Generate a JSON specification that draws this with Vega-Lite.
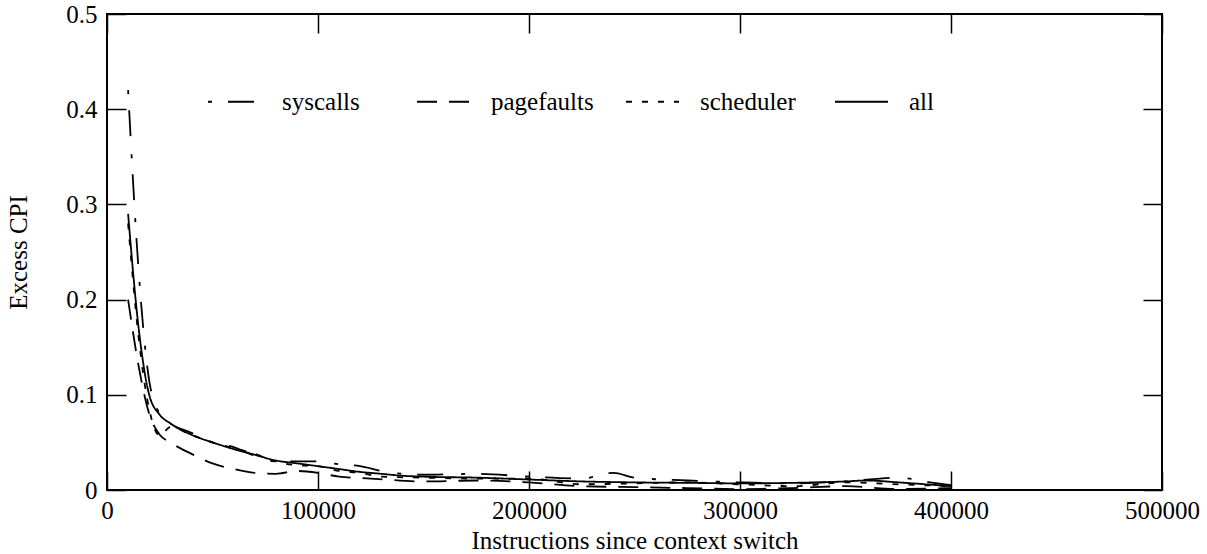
{
  "$schema": "https://vega.github.io/schema/vega-lite/v6.json",
  "autosize": "none",
  "width": 1055,
  "height": 476,
  "padding": {"left": 107, "top": 14, "right": 45, "bottom": 64},
  "background": "white",
  "config": {
    "font": "Liberation Serif",
    "view": {"stroke": "black", "strokeWidth": 2},
    "axis": {"grid": false, "domain": false, "labelFont": "Liberation Serif", "titleFont": "Liberation Serif", "labelFontSize": 25, "titleFontSize": 25, "labelColor": "black", "titleColor": "black", "titleFontWeight": "normal", "tickColor": "black", "tickWidth": 1.5, "labelFlush": false, "labelOverlap": false},
    "legend": {"labelFont": "Liberation Serif", "labelFontSize": 25, "labelColor": "black"}
  },
  "datasets": {
    "d": [
      {"series": "syscalls", "x": 10000, "y": 0.42},
      {"series": "syscalls", "x": 15000, "y": 0.23},
      {"series": "syscalls", "x": 20000, "y": 0.115},
      {"series": "syscalls", "x": 25000, "y": 0.08},
      {"series": "syscalls", "x": 30000, "y": 0.07},
      {"series": "syscalls", "x": 40000, "y": 0.06},
      {"series": "syscalls", "x": 50000, "y": 0.05},
      {"series": "syscalls", "x": 60000, "y": 0.045},
      {"series": "syscalls", "x": 70000, "y": 0.036},
      {"series": "syscalls", "x": 80000, "y": 0.03},
      {"series": "syscalls", "x": 90000, "y": 0.03},
      {"series": "syscalls", "x": 100000, "y": 0.03},
      {"series": "syscalls", "x": 110000, "y": 0.027},
      {"series": "syscalls", "x": 120000, "y": 0.025},
      {"series": "syscalls", "x": 130000, "y": 0.02},
      {"series": "syscalls", "x": 150000, "y": 0.016},
      {"series": "syscalls", "x": 175000, "y": 0.017},
      {"series": "syscalls", "x": 200000, "y": 0.014},
      {"series": "syscalls", "x": 225000, "y": 0.012},
      {"series": "syscalls", "x": 240000, "y": 0.018},
      {"series": "syscalls", "x": 250000, "y": 0.013},
      {"series": "syscalls", "x": 275000, "y": 0.01},
      {"series": "syscalls", "x": 300000, "y": 0.008},
      {"series": "syscalls", "x": 325000, "y": 0.007},
      {"series": "syscalls", "x": 350000, "y": 0.009},
      {"series": "syscalls", "x": 375000, "y": 0.013},
      {"series": "syscalls", "x": 390000, "y": 0.008},
      {"series": "syscalls", "x": 400000, "y": 0.005},
      {"series": "pagefaults", "x": 10000, "y": 0.2},
      {"series": "pagefaults", "x": 15000, "y": 0.13},
      {"series": "pagefaults", "x": 20000, "y": 0.08},
      {"series": "pagefaults", "x": 25000, "y": 0.058},
      {"series": "pagefaults", "x": 30000, "y": 0.05},
      {"series": "pagefaults", "x": 40000, "y": 0.038},
      {"series": "pagefaults", "x": 50000, "y": 0.028},
      {"series": "pagefaults", "x": 60000, "y": 0.022},
      {"series": "pagefaults", "x": 70000, "y": 0.018},
      {"series": "pagefaults", "x": 80000, "y": 0.017},
      {"series": "pagefaults", "x": 90000, "y": 0.02},
      {"series": "pagefaults", "x": 100000, "y": 0.018},
      {"series": "pagefaults", "x": 110000, "y": 0.014},
      {"series": "pagefaults", "x": 125000, "y": 0.012},
      {"series": "pagefaults", "x": 150000, "y": 0.009},
      {"series": "pagefaults", "x": 175000, "y": 0.01},
      {"series": "pagefaults", "x": 200000, "y": 0.008},
      {"series": "pagefaults", "x": 225000, "y": 0.004},
      {"series": "pagefaults", "x": 250000, "y": 0.003},
      {"series": "pagefaults", "x": 275000, "y": 0.002},
      {"series": "pagefaults", "x": 300000, "y": 0.001},
      {"series": "pagefaults", "x": 325000, "y": 0.002},
      {"series": "pagefaults", "x": 350000, "y": 0.004},
      {"series": "pagefaults", "x": 375000, "y": 0.001},
      {"series": "pagefaults", "x": 400000, "y": 0.002},
      {"series": "scheduler", "x": 10000, "y": 0.28},
      {"series": "scheduler", "x": 15000, "y": 0.16},
      {"series": "scheduler", "x": 20000, "y": 0.085},
      {"series": "scheduler", "x": 25000, "y": 0.057},
      {"series": "scheduler", "x": 30000, "y": 0.066},
      {"series": "scheduler", "x": 40000, "y": 0.058},
      {"series": "scheduler", "x": 50000, "y": 0.05},
      {"series": "scheduler", "x": 60000, "y": 0.044},
      {"series": "scheduler", "x": 70000, "y": 0.038},
      {"series": "scheduler", "x": 80000, "y": 0.03},
      {"series": "scheduler", "x": 90000, "y": 0.026},
      {"series": "scheduler", "x": 100000, "y": 0.025},
      {"series": "scheduler", "x": 110000, "y": 0.02},
      {"series": "scheduler", "x": 120000, "y": 0.018},
      {"series": "scheduler", "x": 130000, "y": 0.014},
      {"series": "scheduler", "x": 150000, "y": 0.013},
      {"series": "scheduler", "x": 175000, "y": 0.012},
      {"series": "scheduler", "x": 200000, "y": 0.012},
      {"series": "scheduler", "x": 225000, "y": 0.006},
      {"series": "scheduler", "x": 250000, "y": 0.007},
      {"series": "scheduler", "x": 275000, "y": 0.008},
      {"series": "scheduler", "x": 300000, "y": 0.006},
      {"series": "scheduler", "x": 325000, "y": 0.004},
      {"series": "scheduler", "x": 350000, "y": 0.008},
      {"series": "scheduler", "x": 375000, "y": 0.006},
      {"series": "scheduler", "x": 400000, "y": 0.004},
      {"series": "all", "x": 10000, "y": 0.29},
      {"series": "all", "x": 15000, "y": 0.17},
      {"series": "all", "x": 20000, "y": 0.1},
      {"series": "all", "x": 25000, "y": 0.079},
      {"series": "all", "x": 30000, "y": 0.07},
      {"series": "all", "x": 40000, "y": 0.058},
      {"series": "all", "x": 50000, "y": 0.05},
      {"series": "all", "x": 60000, "y": 0.043},
      {"series": "all", "x": 70000, "y": 0.037},
      {"series": "all", "x": 80000, "y": 0.031},
      {"series": "all", "x": 90000, "y": 0.028},
      {"series": "all", "x": 100000, "y": 0.025},
      {"series": "all", "x": 110000, "y": 0.022},
      {"series": "all", "x": 120000, "y": 0.019},
      {"series": "all", "x": 130000, "y": 0.017},
      {"series": "all", "x": 140000, "y": 0.015},
      {"series": "all", "x": 150000, "y": 0.014},
      {"series": "all", "x": 175000, "y": 0.013},
      {"series": "all", "x": 200000, "y": 0.011},
      {"series": "all", "x": 225000, "y": 0.009},
      {"series": "all", "x": 250000, "y": 0.008},
      {"series": "all", "x": 275000, "y": 0.0075},
      {"series": "all", "x": 300000, "y": 0.007},
      {"series": "all", "x": 325000, "y": 0.0075},
      {"series": "all", "x": 350000, "y": 0.009},
      {"series": "all", "x": 360000, "y": 0.01},
      {"series": "all", "x": 375000, "y": 0.008},
      {"series": "all", "x": 400000, "y": 0.004}
    ]
  },
  "data": {"name": "d"},
  "layer": [
    {
      "mark": {"type": "line", "color": "black", "strokeWidth": 1.8, "interpolate": "monotone", "clip": true},
      "encoding": {
        "x": {"field": "x", "type": "quantitative", "scale": {"domain": [0, 500000], "nice": false},
          "axis": {"orient": "bottom", "title": "Instructions since context switch", "values": [0, 100000, 200000, 300000, 400000, 500000], "format": "d", "tickSize": -19, "labelPadding": 27, "labelFlush": false, "titleY": 50, "titleBaseline": "middle", "labelFont": "Liberation Serif", "labelFontSize": 25, "titleFont": "Liberation Serif"}},
        "y": {"field": "y", "type": "quantitative", "scale": {"domain": [0, 0.5], "nice": false},
          "axis": {"orient": "left", "title": "Excess CPI", "values": [0, 0.1, 0.2, 0.3, 0.4, 0.5], "format": "~g", "tickSize": -19, "labelPadding": 29, "labelFlush": false, "titleX": -89, "titleY": 238, "titleBaseline": "middle", "titleAngle": -90, "labelFont": "Liberation Serif", "labelFontSize": 25, "titleFont": "Liberation Serif"}},
        "strokeDash": {"field": "series", "type": "nominal",
          "scale": {"domain": ["syscalls", "pagefaults", "scheduler", "all"], "range": [[4, 16, 26, 18], [20, 12], [6, 10], [1, 0]]},
          "legend": {"title": null, "orient": "none", "legendX": 100, "legendY": 60, "direction": "horizontal", "gridAlign": "all", "columnPadding": 28, "symbolType": "stroke", "symbolSize": 2809, "symbolStrokeWidth": 1.8, "symbolStrokeColor": "black", "labelFont": "Liberation Serif", "labelFontSize": 25, "labelColor": "black", "labelOffset": 20, "padding": 0}}
      }
    },
    {
      "mark": {"type": "line", "opacity": 0},
      "encoding": {
        "x": {"field": "x", "type": "quantitative", "axis": {"orient": "top", "title": null, "labels": false, "values": [0, 100000, 200000, 300000, 400000, 500000], "tickSize": -19}},
        "y": {"field": "y", "type": "quantitative", "axis": {"orient": "right", "title": null, "labels": false, "values": [0, 0.1, 0.2, 0.3, 0.4, 0.5], "tickSize": -19}},
        "detail": {"field": "series"}
      }
    }
  ],
  "resolve": {"axis": {"x": "independent", "y": "independent"}}
}
